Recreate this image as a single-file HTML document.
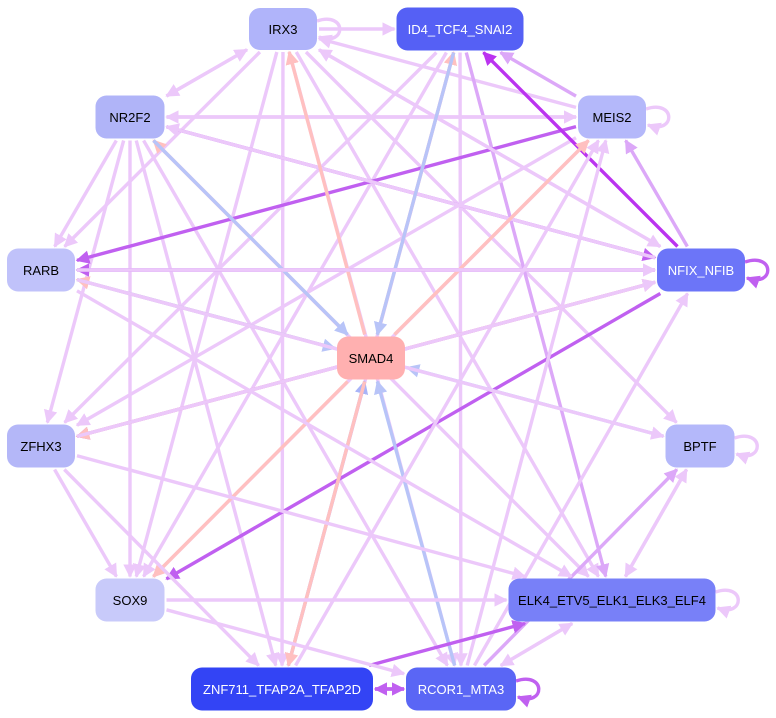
<!DOCTYPE html>
<html><head><meta charset="utf-8"><style>
body{margin:0;background:#fff;width:776px;height:718px;overflow:hidden}
svg{position:absolute;left:0;top:0}
</style></head><body>
<svg id="s" width="776" height="718" xmlns="http://www.w3.org/2000/svg">
<defs></defs>
<g id="e"></g><g id="n"></g>
</svg>
<script>
var N={
IRX3:[283,29,68,42,'#b0b4fa','#000'],
ID4_TCF4_SNAI2:[460,29,127,43,'#5560f5','#fff'],
NR2F2:[130,117,69,43,'#b0b4f8','#000'],
MEIS2:[612,117,68,43,'#b4b8fa','#000'],
RARB:[41,270,68,43,'#c0c2fa','#000'],
NFIX_NFIB:[701,270,88,43,'#6c75f8','#fff'],
SMAD4:[371,358,68,43,'#ffb0b0','#000'],
ZFHX3:[41,446,68,43,'#b4b7f8','#000'],
BPTF:[700,446,69,43,'#b4b8fa','#000'],
SOX9:[130,600,69,43,'#c8cafa','#000'],
ELK4_ETV5_ELK1_ELK3_ELF4:[612,600,207,43,'#7880f8','#000'],
ZNF711_TFAP2A_TFAP2D:[282,689,182,43,'#3344f5','#fff'],
RCOR1_MTA3:[461,689,110,43,'#5a66f5','#fff']};
var L='#ecc8fa',P='#ffc0c0',B='#b8c4f8',D='#c060f0',DD='#bb33f0',M='#dca8f8';
var E=[
['IRX3','ID4_TCF4_SNAI2',L],['IRX3','NR2F2',L],['IRX3','RARB',L],['IRX3','SOX9',L],['IRX3','ZNF711_TFAP2A_TFAP2D',L],['IRX3','RCOR1_MTA3',L],['IRX3','ELK4_ETV5_ELK1_ELK3_ELF4',L],['IRX3','NFIX_NFIB',L],['IRX3','BPTF',L],['MEIS2','IRX3',L],['NR2F2','IRX3',L],
['ID4_TCF4_SNAI2','ZNF711_TFAP2A_TFAP2D',L],['ID4_TCF4_SNAI2','RCOR1_MTA3',L],['ID4_TCF4_SNAI2','ELK4_ETV5_ELK1_ELK3_ELF4',M],['ID4_TCF4_SNAI2','SOX9',L],['ID4_TCF4_SNAI2','ZFHX3',L],
['NR2F2','MEIS2',L],['MEIS2','NR2F2',L],['NR2F2','NFIX_NFIB',D],['NR2F2','RARB',L],['NR2F2','ZFHX3',L],['NR2F2','SOX9',L],['NR2F2','ZNF711_TFAP2A_TFAP2D',L],['NR2F2','RCOR1_MTA3',L],['NR2F2','ELK4_ETV5_ELK1_ELK3_ELF4',L],
['MEIS2','ID4_TCF4_SNAI2',M],['MEIS2','RARB',D],['MEIS2','ZFHX3',L],['MEIS2','SOX9',L],
['NFIX_NFIB','ID4_TCF4_SNAI2',DD],['NFIX_NFIB','MEIS2',M],['NFIX_NFIB','RARB',D],['NFIX_NFIB','ZFHX3',D],['NFIX_NFIB','NR2F2',L],['NFIX_NFIB','IRX3',L],['NFIX_NFIB','SOX9',D],
['RCOR1_MTA3','MEIS2',L],['RCOR1_MTA3','NFIX_NFIB',L],['RCOR1_MTA3','BPTF',M],['RCOR1_MTA3','SMAD4',B],['RCOR1_MTA3','ZNF711_TFAP2A_TFAP2D',D],['RCOR1_MTA3','ELK4_ETV5_ELK1_ELK3_ELF4',L],
['ZNF711_TFAP2A_TFAP2D','SMAD4','#a8b4f8'],['ZNF711_TFAP2A_TFAP2D','RCOR1_MTA3',D],['ZNF711_TFAP2A_TFAP2D','ELK4_ETV5_ELK1_ELK3_ELF4',D],['ZNF711_TFAP2A_TFAP2D','MEIS2',L],
['SMAD4','IRX3',P],['SMAD4','NR2F2',P],['SMAD4','RARB',P],['SMAD4','ZFHX3',P],['SMAD4','MEIS2',P],['SMAD4','NFIX_NFIB',P],['SMAD4','ID4_TCF4_SNAI2',P],['SMAD4','ZNF711_TFAP2A_TFAP2D',P],['SMAD4','SOX9',P],
['ID4_TCF4_SNAI2','SMAD4',B],['NR2F2','SMAD4',B],['RARB','SMAD4',B],['BPTF','SMAD4',B],
['ZFHX3','SOX9',L],['ZFHX3','ZNF711_TFAP2A_TFAP2D',L],['ZFHX3','ELK4_ETV5_ELK1_ELK3_ELF4',L],
['SOX9','ELK4_ETV5_ELK1_ELK3_ELF4',L],['SOX9','RCOR1_MTA3',L],
['BPTF','ELK4_ETV5_ELK1_ELK3_ELF4',L],['ELK4_ETV5_ELK1_ELK3_ELF4','BPTF',L],['RARB','BPTF',L],['RARB','ELK4_ETV5_ELK1_ELK3_ELF4',L],
['ELK4_ETV5_ELK1_ELK3_ELF4','RCOR1_MTA3',L],['RARB','NFIX_NFIB',L],['ZFHX3','NFIX_NFIB',L]];
var ns='http://www.w3.org/2000/svg',g=document.getElementById('e'),defs=document.querySelector('defs');
var cols={},mi=0;
function mk(c){if(cols[c])return cols[c];var id='m'+(mi++);var m=document.createElementNS(ns,'marker');
m.setAttribute('id',id);m.setAttribute('viewBox','0 0 10 10');m.setAttribute('refX','9');m.setAttribute('refY','5');
m.setAttribute('markerWidth','4');m.setAttribute('markerHeight','4');m.setAttribute('orient','auto');m.setAttribute('markerUnits','strokeWidth');
m.innerHTML='<path d="M0,0L10,5L0,10z" fill="'+c+'"/>';defs.appendChild(m);cols[c]=id;return id;}
function clip(a,b){var dx=a[0]-b[0],dy=a[1]-b[1];var hw=b[2]/2+2,hh=b[3]/2+2;
var t=Math.min(Math.abs(dx)>0?hw/Math.abs(dx):1e9,Math.abs(dy)>0?hh/Math.abs(dy):1e9);return [b[0]+dx*t,b[1]+dy*t];}
E.forEach(function(e){var a=N[e[0]],b=N[e[1]];var s=clip(b,a),t=clip(a,b);
var l=document.createElementNS(ns,'line');l.setAttribute('x1',s[0]);l.setAttribute('y1',s[1]);l.setAttribute('x2',t[0]);l.setAttribute('y2',t[1]);
l.setAttribute('stroke',e[2]);l.setAttribute('stroke-width',3.4);l.setAttribute('marker-end','url(#'+mk(e[2])+')');g.appendChild(l);});
[['IRX3',L],['MEIS2',L],['NFIX_NFIB',D],['BPTF',L],['ELK4_ETV5_ELK1_ELK3_ELF4',L],['RCOR1_MTA3',D]].forEach(function(x){var n=N[x[0]];
var r=n[0]+n[2]/2,y=n[1];var p=document.createElementNS(ns,'path');
p.setAttribute('d','M'+r+','+(y-8)+' C'+(r+30)+','+(y-18)+' '+(r+30)+','+(y+18)+' '+(r+2)+','+(y+8));
p.setAttribute('stroke',x[1]);p.setAttribute('stroke-width',3.4);p.setAttribute('fill','none');p.setAttribute('marker-end','url(#'+mk(x[1])+')');g.appendChild(p);});
var gn=document.getElementById('n');
for(var k in N){var n=N[k];var r=document.createElementNS(ns,'rect');r.setAttribute('x',n[0]-n[2]/2);r.setAttribute('y',n[1]-n[3]/2);
r.setAttribute('width',n[2]);r.setAttribute('height',n[3]);r.setAttribute('rx',11);r.setAttribute('fill',n[4]);gn.appendChild(r);
var t=document.createElementNS(ns,'text');t.setAttribute('x',n[0]);t.setAttribute('y',n[1]+5);t.setAttribute('text-anchor','middle');
t.setAttribute('font-family','Liberation Sans, sans-serif');t.setAttribute('font-size','13');t.setAttribute('fill',n[5]);t.textContent=k;gn.appendChild(t);}
</script>
</body></html>
